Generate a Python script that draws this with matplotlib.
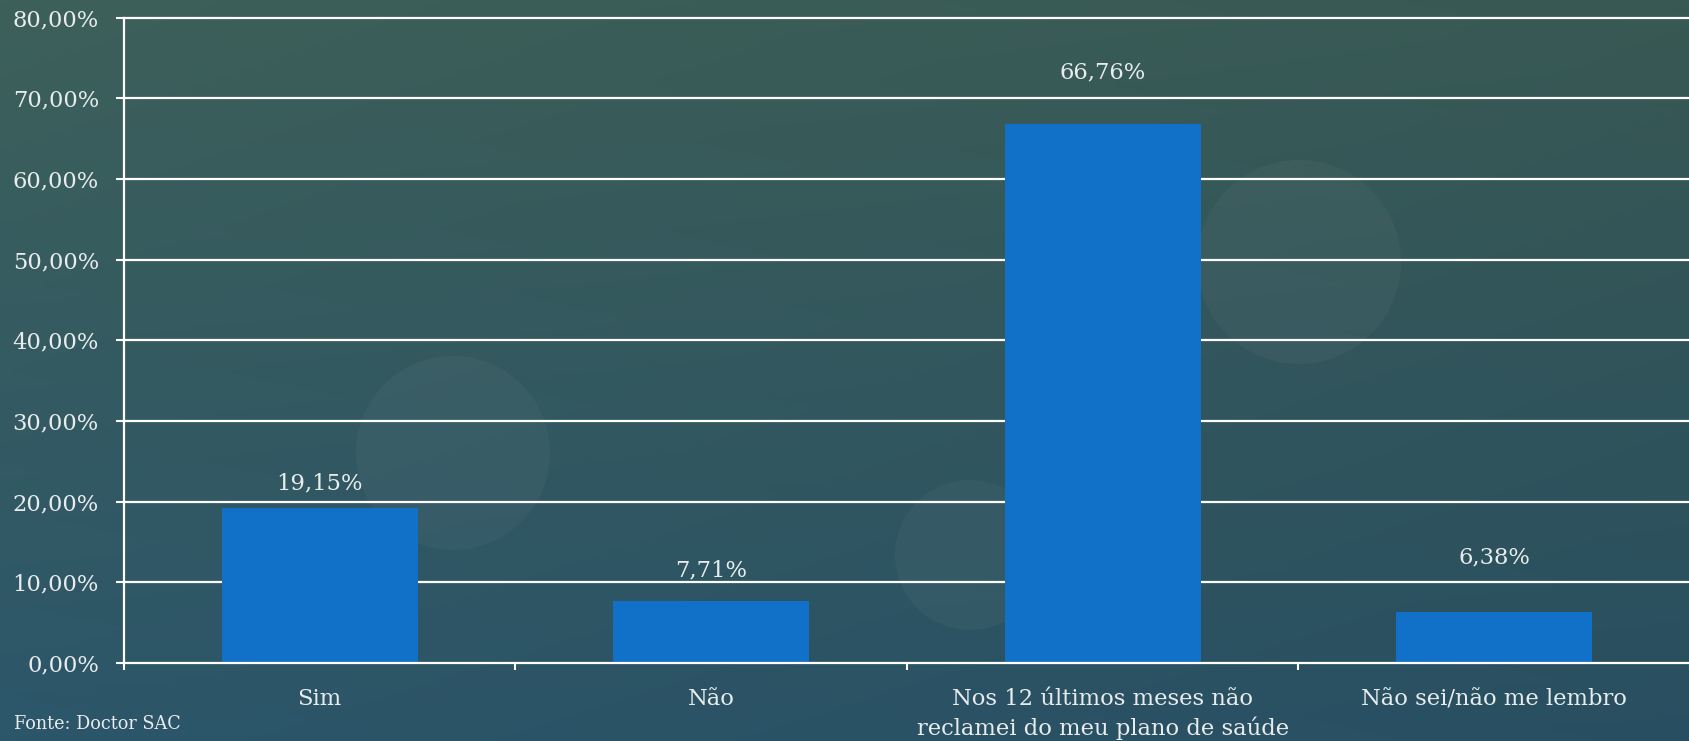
import numpy as np
import matplotlib
matplotlib.use("Agg")
import matplotlib.pyplot as plt
from matplotlib.patches import Circle

categories = ["Sim", "Não", "Nos 12 últimos meses não\nreclamei do meu plano de saúde",
              "Não sei/não me lembro"]
values = [19.15, 7.71, 66.76, 6.38]
y_ticks = [0, 10, 20, 30, 40, 50, 60, 70, 80]
source = "Fonte: Doctor SAC"

# where each value label sits (in % units), set by hand per bar
label_y = [22.3, 11.5, 73.2, 13.05]

W, H = 1690, 741
BAR = "#1170c8"
TXT = "#e8ecec"

plt.rcParams["font.family"] = ["DejaVu Serif"]


def pct(v):
    return f"{v:.2f}".replace(".", ",") + "%"


fig = plt.figure(figsize=(W / 100, H / 100), dpi=100)

# --- background: teal gradient with a few soft bokeh discs ---
bg = fig.add_axes([0, 0, 1, 1], zorder=-10)
top = np.array([61, 96, 90]) / 255
bot = np.array([44, 86, 106]) / 255
yy = np.linspace(0, 1, 200)[:, None, None]
xx = np.linspace(0, 1, 300)[None, :, None]
grad = top * (1 - yy) + bot * yy
grad = grad * (1 - 0.08 * xx)
bg.imshow(np.clip(grad, 0, 1), extent=[0, W, H, 0], aspect="auto")
for cx, cy, r in [(453, 453, 97), (1299, 262, 102), (970, 555, 75)]:
    bg.add_patch(Circle((cx, cy), r, color="white", alpha=0.035, lw=0))
bg.set_xlim(0, W); bg.set_ylim(H, 0)
bg.axis("off")

# --- chart ---
x0, y0, y1 = 124, 663, 17.5
ax = fig.add_axes([x0 / W, 1 - y0 / H, 1 - x0 / W, (y0 - y1) / H])
ax.patch.set_alpha(0)

x = np.arange(len(categories))
ax.bar(x, values, width=0.5, color=BAR, zorder=3)
for xi, v, ly in zip(x, values, label_y):
    ax.text(xi, ly, pct(v), ha="center", va="center", fontsize=16.3, color=TXT, zorder=4)

for t in y_ticks[1:]:
    ax.axhline(t, color="white", lw=1.6, zorder=1, clip_on=False)

ax.set_xlim(-0.5, 3.5)
ax.set_ylim(0, 80)
ax.set_yticks(y_ticks)
ax.set_yticklabels([pct(t) for t in y_ticks])
ax.set_xticks(x)
ax.set_xticklabels(categories, linespacing=1.35)
ax.set_xticks(np.arange(-0.5, 4, 1), minor=True)

ax.tick_params(axis="y", colors="white", labelcolor=TXT, labelsize=16.3,
               length=6, width=1.5, pad=12, direction="out")
ax.tick_params(axis="x", which="major", length=0, labelcolor=TXT, labelsize=16.3, pad=18)
ax.tick_params(axis="x", which="minor", colors="white", length=5, width=1.5, direction="out")

for s in ("top", "right"):
    ax.spines[s].set_visible(False)
for s in ("left", "bottom"):
    ax.spines[s].set_color("white")
    ax.spines[s].set_linewidth(1.6)
    ax.spines[s].set_zorder(5)

fig.text(14 / W, 1 - 724 / H, source, ha="left", va="center", fontsize=12.7, color=TXT)

fig.savefig("out.png", dpi=100)
